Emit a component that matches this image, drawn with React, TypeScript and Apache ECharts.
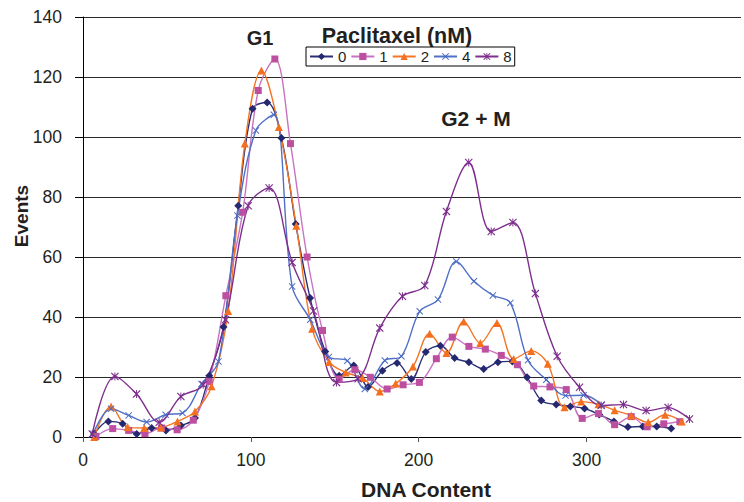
import React, { useEffect, useRef } from "react";
import * as echarts from "echarts";

// Tick labels
const xTickValues = [0, 100, 200, 300];
const yMin = 0;
const yMax = 140;
const yStep = 20;

// Legend names (Paclitaxel, nM)
const seriesNames = ["0", "1", "2", "4", "8"];

// Series 0 nM
const x0 = [6.6, 15.1, 23.6, 32, 40.9, 49.4, 58.3, 66.7, 75.2, 83.7, 92.5, 101, 109.7, 118.2, 126.7, 135.3, 144.3, 152.6, 161.3, 169.8, 178.4, 187.1, 195.6, 204.2, 212.9, 221.4, 229.9, 238.7, 247.2, 255.8, 264.5, 273, 281.9, 290.3, 298.8, 307.5, 316.3, 324.6, 333.5, 341.8, 350.4];
const y0 = [1, 5.2, 4.4, 1, 3, 2.2, 3.8, 6.3, 20.4, 36.7, 77.1, 109.4, 111.5, 99.7, 71, 46.3, 28.5, 20.4, 23.8, 16.7, 22.1, 24.7, 19.3, 28.3, 30.4, 26.3, 24.9, 22.7, 24.9, 25.2, 19.9, 12.2, 10.8, 10.2, 9.5, 7.5, 5.2, 3.3, 3.5, 3.5, 2.8];

// Series 1 nM
const x1 = [7.7, 17.7, 27.2, 36.9, 46.8, 56.1, 65.7, 75.2, 85.1, 95.1, 104.4, 114.3, 123.6, 133.5, 142.7, 152.6, 162, 171.2, 181.2, 190.7, 200.4, 210.5, 220, 229.9, 239.7, 249.2, 258.8, 268.5, 278.2, 287.9, 297.4, 307.1, 316.7, 326.6, 336.1, 346, 355.6];
const y1 = [0.2, 2.8, 2.2, 1.1, 3, 2.4, 5.6, 18.5, 47.1, 74.9, 115.5, 126, 97.8, 60, 35.5, 19.3, 22.4, 19.9, 16, 17.4, 18.2, 26.1, 33.3, 30.2, 29.3, 27.2, 24.1, 17, 16.7, 15.8, 6.2, 7.8, 4.1, 6.8, 3.4, 4.4, 5.1];

// Series 2 nM
const x2 = [6.7, 16.7, 26.6, 36.5, 46.4, 56.3, 66.7, 76.6, 86.5, 96.4, 106.3, 116.7, 127.1, 136.5, 146.6, 156.5, 166.5, 176.8, 186.3, 196.6, 206.5, 216.5, 226.8, 236.7, 246.6, 256.6, 267, 276.9, 286.9, 296.8, 307.1, 316.7, 326.6, 336.7, 346.8, 356.7];
const y2 = [0, 10.2, 3.3, 3, 3.2, 5.2, 8.5, 16.9, 42, 97.8, 122.2, 103.3, 70.4, 36.1, 25, 21.5, 19.7, 15.2, 17.8, 23.5, 34.4, 28, 38.5, 31.3, 38, 26, 28.7, 24.4, 9.9, 11.8, 10.9, 8.9, 7.2, 4.9, 7.4, 5.2];

// Series 4 nM
const x4 = [6, 16.7, 27.2, 37.9, 49.2, 59.3, 70.6, 80.7, 92, 103, 113.7, 124.6, 135.4, 146.5, 157.5, 167.9, 179.8, 189.7, 200.6, 211.5, 222.4, 232.9, 244.2, 254.6, 265.1, 276, 287.5, 298.2, 309];
const y4 = [1, 9.4, 7.2, 5, 7.4, 8, 17.7, 25.2, 73.8, 102.2, 107.4, 50.2, 39.1, 26.7, 25.4, 16, 25.5, 26.9, 41.9, 45.8, 58.5, 51.9, 47.2, 44.7, 25.6, 19.1, 13.8, 13.9, 10.8];

// Series 8 nM
const x8 = [5.5, 19, 31.9, 45.4, 58.3, 71.6, 84.9, 98.4, 110.9, 124.6, 137.3, 151, 163.9, 176.8, 190.3, 203.6, 216.5, 229.8, 243.2, 256.1, 269.5, 282.5, 295.8, 308.7, 322, 335.5, 348.6, 361.3];
const y8 = [1, 20.2, 14.3, 4.9, 13.5, 17.4, 39.1, 77.1, 83, 58.2, 42, 18.2, 19.4, 36.3, 46.9, 50.5, 75.2, 91.5, 68.5, 71.5, 47.8, 26.9, 16.6, 10.5, 10.8, 8.8, 9.8, 6];

const FONT = "'Liberation Sans', Arial, Helvetica, sans-serif";
const TEXT = "#231f20";

const X_PATH = "path://M0,1L1,0L5,4L9,0L10,1L6,5L10,9L9,10L5,6L1,10L0,9L4,5Z";
const STAR_PATH = "path://M0,1L1,0L5,4L9,0L10,1L6,5L10,9L9,10L5,6L1,10L0,9L4,5ZM4.4,0L5.6,0L5.6,10L4.4,10Z";

function makeSeries(
  name: string,
  xs: number[],
  ys: number[],
  markerColor: string,
  lineColor: string,
  symbol: string,
  size: number
) {
  return {
    name,
    type: "line",
    data: xs.map((x, i) => [x, ys[i]]),
    smooth: 0.35,
    symbol,
    symbolSize: size,
    lineStyle: { color: lineColor, width: 1.4 },
    itemStyle: { color: markerColor },
    emphasis: { disabled: true },
  };
}

export default function App() {
  const ref = useRef<HTMLDivElement>(null);

  useEffect(() => {
    document.body.style.margin = "0";
    if (!ref.current) return;
    const chart = echarts.init(ref.current, undefined, { renderer: "svg" });
    const option = {
      animation: false,
      backgroundColor: "#ffffff",
      textStyle: { fontFamily: FONT },
      grid: { left: 83, right: 3, top: 17, bottom: 65, containLabel: false },
      xAxis: {
        type: "value",
        min: 0,
        max: 392,
        interval: 100,
        axisLine: { show: true, lineStyle: { color: "#000", width: 1 } },
        axisTick: { show: true, inside: false, length: 5, lineStyle: { color: "#555" }, customValues: xTickValues },
        axisLabel: {
          fontSize: 17.5,
          color: TEXT,
          fontFamily: FONT,
          margin: 14,
          customValues: xTickValues,
        },
        splitLine: { show: false },
      },
      yAxis: {
        type: "value",
        min: yMin,
        max: yMax,
        interval: yStep,
        axisLine: { show: true, lineStyle: { color: "#000", width: 1 } },
        axisTick: { show: true, inside: false, length: 8, lineStyle: { color: "#000" } },
        axisLabel: { fontSize: 17.5, color: TEXT, fontFamily: FONT, margin: 21 },
        splitLine: { show: true, lineStyle: { color: "#2a2a2a", width: 1 } },
      },
      legend: {
        data: seriesNames,
        left: 306,
        top: 47,
        orient: "horizontal",
        itemWidth: 23,
        itemHeight: 9,
        itemGap: 4,
        padding: [2, 3],
        borderColor: "#000",
        borderWidth: 1,
        backgroundColor: "#fff",
        textStyle: { fontSize: 15, color: TEXT, fontFamily: FONT },
      },
      graphic: [
        {
          type: "text",
          x: 260,
          y: 38,
          style: { text: "G1", font: `bold 20px ${FONT}`, fill: TEXT, textAlign: "center", textVerticalAlign: "middle" },
        },
        {
          type: "text",
          x: 476,
          y: 118,
          style: { text: "G2 + M", font: `bold 21px ${FONT}`, fill: TEXT, textAlign: "center", textVerticalAlign: "middle" },
        },
        {
          type: "text",
          x: 397,
          y: 36,
          style: { text: "Paclitaxel (nM)", font: `bold 21.5px ${FONT}`, fill: TEXT, textAlign: "center", textVerticalAlign: "middle" },
        },
        {
          type: "text",
          x: 426,
          y: 489,
          style: { text: "DNA Content", font: `bold 21px ${FONT}`, fill: TEXT, textAlign: "center", textVerticalAlign: "middle" },
        },
        {
          type: "text",
          x: 21,
          y: 216,
          rotation: Math.PI / 2,
          style: { text: "Events", font: `bold 19px ${FONT}`, fill: TEXT, textAlign: "center", textVerticalAlign: "middle" },
        },
      ],
      series: [
        makeSeries(seriesNames[0], x0, y0, "#25286e", "#2b2f78", "diamond", 8),
        makeSeries(seriesNames[1], x1, y1, "#bd4fa0", "#c872c2", "rect", 7),
        makeSeries(seriesNames[2], x2, y2, "#f37021", "#f37526", "triangle", 8),
        makeSeries(seriesNames[3], x4, y4, "#4a6bc2", "#4f70c6", X_PATH, 7),
        makeSeries(seriesNames[4], x8, y8, "#7e2f8e", "#7e2f8e", STAR_PATH, 8),
      ],
    };
    chart.setOption(option as any);
    return () => {
      chart.dispose();
    };
  }, []);

  return <div ref={ref} style={{ width: 744, height: 502 }} />;
}
